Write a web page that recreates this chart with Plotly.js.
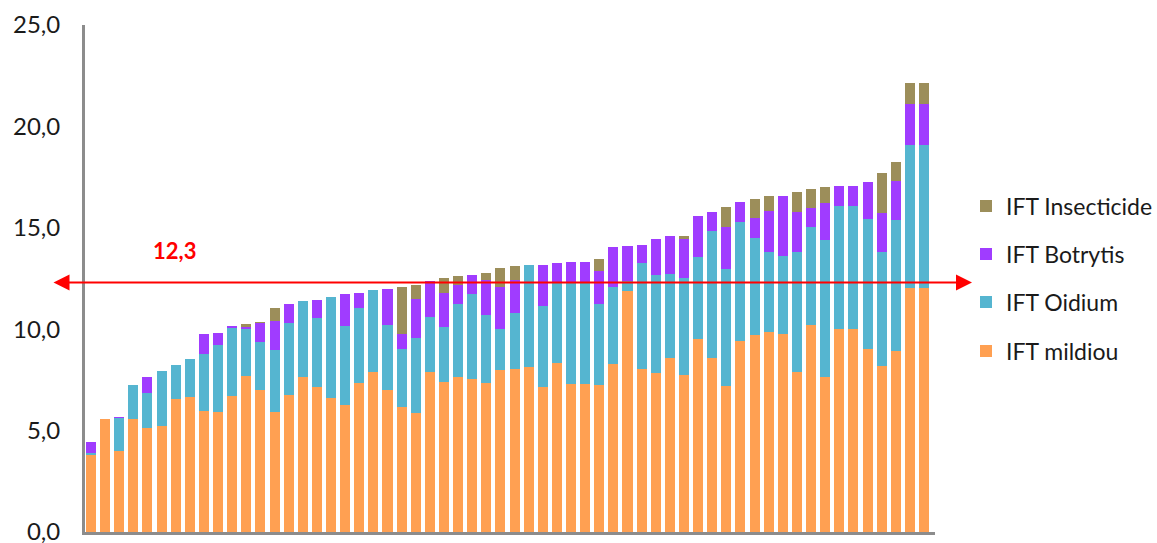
<!DOCTYPE html>
<html>
<head>
<meta charset="utf-8">
<script src="https://cdn.plot.ly/plotly-3.0.1.min.js"></script>
<style>
  html, body { margin: 0; padding: 0; background: #fff; }
  #chart { width: 1157px; height: 543px; }
</style>
</head>
<body>
<div id="chart"></div>
<script>
// Exploitations (one bar each), sorted by total IFT
const exploitations = [1,2,3,4,5,6,7,8,9,10,11,12,13,14,15,16,17,18,19,20,21,22,23,24,25,26,27,28,29,30,
  31,32,33,34,35,36,37,38,39,40,41,42,43,44,45,46,47,48,49,50,51,52,53,54,55,56,57,58,59,60];

const iftMildiou = [3.8, 5.55, 4.0, 5.55, 5.15, 5.25, 6.55, 6.65, 5.95, 5.9,
  6.72, 7.71, 7.02, 5.9, 6.75, 7.63, 7.17, 6.62, 6.26, 7.35,
  7.91, 7.02, 6.16, 5.86, 7.91, 7.4, 7.66, 7.55, 7.35, 8.01,
  8.04, 8.14, 7.15, 8.34, 7.31, 7.31, 7.25, 8.3, 11.88, 8.04,
  7.82, 8.59, 7.75, 9.53, 8.56, 7.21, 9.43, 9.71, 9.88, 9.78,
  7.88, 10.23, 7.64, 10.02, 10.02, 9.02, 8.18, 8.93, 12.05, 12.05];

const iftOidium = [0.1, 0, 1.62, 1.7, 1.68, 2.68, 1.7, 1.9, 2.85, 3.33,
  3.36, 2.31, 2.37, 3.08, 3.55, 3.74, 3.39, 4.98, 3.92, 3.7,
  4.03, 3.19, 2.87, 3.73, 2.7, 2.72, 3.58, 4.2, 3.36, 2.01,
  2.75, 5.04, 4.0, 3.93, 4.96, 4.96, 4.0, 3.79, 0.48, 5.24,
  4.83, 4.11, 4.76, 4.01, 6.26, 5.78, 5.84, 4.77, 3.95, 3.81,
  5.91, 4.79, 6.76, 6.05, 6.05, 6.4, 5.61, 6.44, 7.04, 7.04];

const iftBotrytis = [0.52, 0, 0.06, 0, 0.82, 0, 0, 0, 0.96, 0.59,
  0.08, 0.11, 0.92, 1.43, 0.95, 0.03, 0.89, 0, 1.57, 0.75,
  0, 1.77, 0.74, 1.91, 1.78, 1.68, 0.95, 0.94, 1.73, 2.04,
  1.65, 0, 2.03, 0.99, 1.06, 1.06, 1.63, 1.98, 1.76, 0.89,
  1.78, 1.92, 1.92, 2.02, 0.94, 2.03, 0.99, 0.99, 1.98, 2.96,
  2.0, 0.95, 1.81, 0.99, 0.99, 1.84, 1.93, 1.94, 2.0, 2.0];

const iftInsecticide = [0, 0, 0, 0, 0, 0, 0, 0, 0, 0,
  0, 0.13, 0.05, 0.64, 0, 0, 0, 0, 0, 0,
  0, 0, 2.31, 0.69, 0, 0.74, 0.45, 0, 0.31, 0.97,
  0.69, 0, 0, 0, 0, 0, 0.6, 0, 0, 0,
  0, 0, 0.19, 0, 0, 0.99, 0, 0.94, 0.74, 0,
  1.0, 0.94, 0.8, 0, 0, 0, 2.0, 0.94, 1.03, 1.03];

const seriesNames = ['IFT mildiou', 'IFT Oidium', 'IFT Botrytis', 'IFT Insecticide'];
const seriesColors = ['#FFA052', '#55B5D0', '#A03CFF', '#9C8E5A'];
const meanIFT = 12.3;
const meanLabel = '12,3';
const yTicks = [0, 5, 10, 15, 20, 25];

const FONT = 'Lato, "Open Sans", "Liberation Sans", sans-serif';
const seriesValues = [iftMildiou, iftOidium, iftBotrytis, iftInsecticide];
const legendIds = ['legend4', 'legend3', 'legend2', 'legend'];

const traces = seriesValues.map((vals, i) => ({
  type: 'bar',
  x: exploitations,
  y: vals,
  name: seriesNames[i],
  legend: legendIds[i],
  marker: { color: seriesColors[i], line: { width: 0 } },
  hoverinfo: 'skip'
}));

const plotLeft = 85, plotRight = 935, plotTop = 25, plotBottom = 532;
const plotW = plotRight - plotLeft, plotH = plotBottom - plotTop;
const arrowRightPx = 972, arrowLeftPx = 52;

function legendAt(centerPx) {
  return {
    x: (966 - plotLeft) / plotW,
    xanchor: 'left',
    y: (plotBottom - centerPx) / plotH,
    yanchor: 'middle',
    font: { family: FONT, size: 23, color: '#1a1a1a' },
    bgcolor: 'rgba(0,0,0,0)'
  };
}

const layout = {
  width: 1157,
  height: 543,
  margin: { l: plotLeft, r: 1157 - plotRight, t: plotTop, b: 543 - plotBottom, pad: 0, autoexpand: false },
  paper_bgcolor: '#ffffff',
  plot_bgcolor: '#ffffff',
  barmode: 'stack',
  bargap: 0.29,
  separators: ', ',
  font: { family: FONT, size: 23, color: '#1a1a1a' },
  showlegend: true,
  legend: legendAt(206),
  legend2: legendAt(254),
  legend3: legendAt(302),
  legend4: legendAt(351),
  xaxis: {
    type: 'linear',
    range: [0.575, 60.78],
    showline: true,
    linecolor: '#8C8C8C',
    linewidth: 3,
    showgrid: false,
    zeroline: false,
    showticklabels: false,
    ticks: '',
    fixedrange: true
  },
  yaxis: {
    range: [0, 25],
    tickvals: yTicks,
    tickformat: '.1f',
    showline: true,
    linecolor: '#8C8C8C',
    linewidth: 3,
    showgrid: false,
    zeroline: false,
    ticks: 'outside',
    ticklen: 17,
    tickcolor: 'rgba(0,0,0,0)',
    ticklabeloverflow: 'allow',
    tickfont: { family: FONT, size: 24, color: '#1a1a1a' },
    fixedrange: true
  },
  annotations: [
    {
      xref: 'paper', yref: 'y',
      x: (arrowRightPx - plotLeft) / plotW, y: meanIFT,
      axref: 'pixel', ayref: 'pixel',
      ax: -(arrowRightPx - arrowLeftPx), ay: 0,
      text: '',
      showarrow: true,
      arrowside: 'end+start',
      arrowhead: 2, startarrowhead: 2,
      arrowsize: 1.6, startarrowsize: 1.6,
      arrowwidth: 2,
      arrowcolor: '#FF0000',
      standoff: 0, startstandoff: 0
    },
    {
      xref: 'x', yref: 'y',
      x: 6.9, y: 13.9,
      text: '<b>' + meanLabel + '</b>',
      showarrow: false,
      font: { family: FONT, size: 22, color: '#FF0000' }
    }
  ]
};

Plotly.newPlot('chart', traces, layout, { displayModeBar: false, staticPlot: true });
</script>
</body>
</html>
